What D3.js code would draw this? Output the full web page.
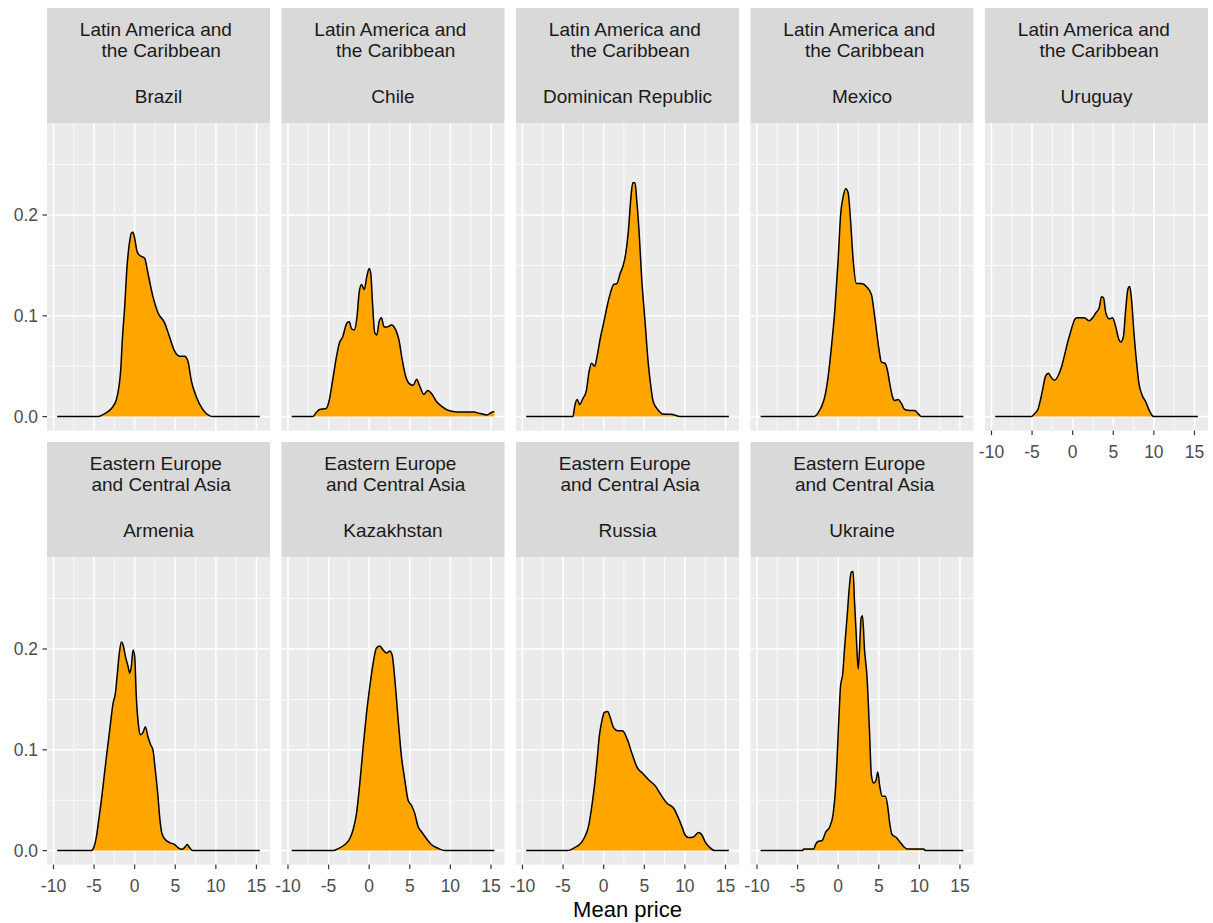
<!DOCTYPE html>
<html><head><meta charset="utf-8">
<script src="https://cdn.jsdelivr.net/npm/d3@7"></script>
<style>
body{margin:0;background:#fff;}
svg text{font-family:"Liberation Sans", Arial, sans-serif;}
</style>
</head><body>
<svg id="chart" width="1213" height="923"></svg>
<script>
// ---------- data ----------
const regionLabels = [
  ["Latin America and ", " the Caribbean"],
  ["Eastern Europe ", " and Central Asia"]
];
const countries = ["Brazil","Chile","Dominican Republic","Mexico","Uruguay","Armenia","Kazakhstan","Russia","Ukraine"];
const countryRegion = [0,0,0,0,0,1,1,1,1];
const xTicks = [-10,-5,0,5,10,15];
const xMinor = [-7.5,-2.5,2.5,7.5,12.5];
const yTicks = [0,0.1,0.2];
const yTickLabels = ["0.0","0.1","0.2"];
const yMinor = [0.05,0.15,0.25];
const xDataRange = [-9.55, 15.42];
const yDataMax = 0.2774;
const xTitle = "Mean price";

const brazil = [[-9.55,0],[-4.6,0],[-3.69,0.003],[-2.87,0.008],[-2.25,0.017],[-1.93,0.030],[-1.72,0.046],[-1.52,0.076],[-1.23,0.109],[-0.94,0.149],[-0.70,0.169],[-0.41,0.182],[-0.2,0.183],[0,0.177],[0.29,0.164],[0.61,0.160],[1.23,0.157],[1.64,0.142],[2.25,0.119],[2.87,0.103],[3.69,0.093],[4.3,0.079],[4.92,0.065],[5.53,0.060],[6.15,0.060],[6.56,0.055],[6.97,0.036],[7.58,0.020],[8.4,0.007],[9.2,0.001],[9.6,0],[15.42,0]];
const chile = [[-9.55,0],[-6.94,0],[-6.53,0.004],[-6.1,0.007],[-5.3,0.008],[-4.9,0.017],[-4.5,0.036],[-4.1,0.056],[-3.67,0.073],[-3.27,0.079],[-2.73,0.093],[-2.45,0.094],[-2.16,0.087],[-1.84,0.086],[-1.5,0.099],[-1.22,0.124],[-0.94,0.131],[-0.61,0.126],[-0.29,0.139],[0,0.147],[0.2,0.142],[0.41,0.113],[0.69,0.083],[0.94,0.081],[1.22,0.094],[1.51,0.098],[1.84,0.089],[2.24,0.089],[2.73,0.091],[3.27,0.086],[3.67,0.076],[4.08,0.056],[4.49,0.040],[4.9,0.033],[5.43,0.031],[5.84,0.037],[6.24,0.030],[6.73,0.022],[7.22,0.026],[7.76,0.022],[8.29,0.015],[8.98,0.010],[9.8,0.006],[10.8,0.0046],[12.86,0.0046],[13.67,0.003],[14.5,0.0017],[15.1,0.0043],[15.42,0.005]];
const dominican = [[-9.55,0],[-3.78,0],[-3.58,0.010],[-3.25,0.017],[-2.97,0.012],[-2.56,0.018],[-2.15,0.025],[-1.83,0.043],[-1.5,0.053],[-1.1,0.050],[-0.81,0.060],[-0.41,0.078],[0,0.093],[0.41,0.109],[0.81,0.122],[1.22,0.131],[1.63,0.132],[2.03,0.142],[2.44,0.151],[2.72,0.162],[3.05,0.185],[3.33,0.215],[3.58,0.232],[3.86,0.232],[4.07,0.215],[4.35,0.185],[4.67,0.139],[5.08,0.096],[5.49,0.053],[5.81,0.030],[6.1,0.015],[6.7,0.0066],[7.3,0.0026],[8.3,0.0023],[9.1,0.0007],[9.5,0],[15.42,0]];
const mexico = [[-9.55,0],[-3.0,0],[-2.46,0.004],[-2.05,0.010],[-1.64,0.020],[-1.23,0.040],[-0.82,0.070],[-0.41,0.106],[0,0.156],[0.29,0.199],[0.61,0.218],[0.94,0.226],[1.23,0.222],[1.52,0.195],[1.84,0.156],[2.25,0.132],[2.87,0.132],[3.48,0.129],[4.1,0.121],[4.39,0.106],[4.71,0.086],[5.04,0.066],[5.33,0.054],[5.74,0.053],[6.07,0.046],[6.35,0.033],[6.68,0.020],[6.97,0.016],[7.38,0.017],[7.79,0.013],[8.2,0.007],[8.81,0.006],[9.43,0.006],[9.84,0.003],[10.25,0],[15.42,0]];
const uruguay = [[-9.55,0],[-5.1,0],[-4.69,0.003],[-4.29,0.007],[-3.96,0.017],[-3.67,0.028],[-3.35,0.040],[-2.98,0.043],[-2.65,0.039],[-2.24,0.036],[-1.76,0.041],[-1.35,0.050],[-0.94,0.063],[-0.61,0.074],[-0.29,0.083],[0,0.091],[0.29,0.097],[0.61,0.098],[1.43,0.098],[2.04,0.095],[2.45,0.098],[2.86,0.103],[3.27,0.108],[3.55,0.119],[3.8,0.118],[4.08,0.103],[4.49,0.097],[4.9,0.098],[5.31,0.089],[5.63,0.078],[5.92,0.074],[6.24,0.079],[6.53,0.106],[6.82,0.127],[7.02,0.129],[7.22,0.119],[7.55,0.083],[7.88,0.053],[8.16,0.033],[8.57,0.021],[8.98,0.015],[9.39,0.007],[9.8,0.001],[10.0,0],[15.42,0]];
const armenia = [[-9.55,0],[-5.33,0],[-5.0,0.004],[-4.71,0.014],[-4.43,0.030],[-4.1,0.050],[-3.77,0.073],[-3.48,0.093],[-3.07,0.120],[-2.66,0.146],[-2.38,0.156],[-2.13,0.176],[-1.93,0.193],[-1.64,0.207],[-1.39,0.203],[-1.15,0.193],[-0.82,0.183],[-0.61,0.176],[-0.41,0.183],[-0.2,0.199],[0,0.193],[0.2,0.153],[0.49,0.123],[0.7,0.115],[1.02,0.117],[1.31,0.123],[1.64,0.113],[1.97,0.105],[2.25,0.100],[2.54,0.080],[2.87,0.054],[3.07,0.034],[3.36,0.017],[3.77,0.011],[4.3,0.008],[4.92,0.006],[5.33,0.003],[5.74,0.0013],[6.15,0.003],[6.48,0.006],[6.76,0.003],[7.17,0],[15.42,0]];
const kazakhstan = [[-9.55,0],[-4.43,0],[-3.81,0.002],[-2.99,0.006],[-2.38,0.012],[-1.97,0.021],[-1.56,0.037],[-1.15,0.067],[-0.74,0.103],[-0.33,0.136],[0.08,0.163],[0.49,0.186],[0.9,0.201],[1.31,0.203],[1.72,0.199],[2.13,0.196],[2.54,0.198],[2.83,0.194],[3.16,0.170],[3.57,0.130],[3.98,0.093],[4.39,0.070],[4.8,0.050],[5.2,0.045],[5.61,0.037],[6.02,0.024],[6.43,0.019],[7.05,0.012],[7.66,0.006],[8.48,0.0023],[9.3,0],[15.42,0]];
const russia = [[-9.55,0],[-4.39,0],[-3.58,0.003],[-2.97,0.006],[-2.36,0.013],[-1.87,0.024],[-1.46,0.044],[-1.14,0.064],[-0.81,0.090],[-0.53,0.114],[-0.24,0.128],[0.08,0.137],[0.49,0.138],[0.81,0.132],[1.22,0.122],[1.71,0.119],[2.32,0.119],[2.93,0.110],[3.54,0.095],[4.15,0.082],[4.76,0.077],[5.57,0.070],[6.38,0.064],[7.0,0.056],[7.8,0.047],[8.62,0.042],[9.23,0.032],[9.63,0.024],[10.0,0.016],[10.45,0.013],[11.06,0.0136],[11.67,0.018],[12.07,0.016],[12.48,0.009],[13.09,0.003],[13.7,0],[15.42,0]];
const ukraine = [[-9.55,0],[-4.43,0],[-4.22,0.0017],[-3.0,0.0017],[-2.79,0.006],[-2.5,0.009],[-1.97,0.010],[-1.56,0.018],[-1.02,0.024],[-0.61,0.037],[-0.33,0.061],[-0.12,0.094],[0.08,0.130],[0.29,0.163],[0.57,0.176],[0.78,0.200],[1.11,0.233],[1.35,0.259],[1.6,0.276],[1.84,0.277],[2.0,0.249],[2.25,0.210],[2.46,0.180],[2.62,0.198],[2.83,0.231],[3.0,0.233],[3.24,0.200],[3.57,0.170],[3.85,0.120],[4.1,0.074],[4.39,0.067],[4.67,0.070],[4.88,0.078],[5.12,0.064],[5.41,0.054],[5.82,0.054],[6.1,0.044],[6.35,0.027],[6.64,0.016],[7.17,0.013],[7.66,0.008],[8.07,0.004],[8.48,0.0017],[10.53,0.0017],[10.74,0],[15.42,0]];
const densities = [brazil, chile, dominican, mexico, uruguay, armenia, kazakhstan, russia, ukraine];

// ---------- layout ----------
const svg = d3.select("#chart");
const nCol = 5;
const panelW = 223, colStep = 234.5, left0 = 47;
const rowTop = [8, 442];
const stripH = 115, panelH = 307.6;

const xr = xDataRange[1]-xDataRange[0];
const x = d3.scaleLinear().domain([xDataRange[0]-0.05*xr, xDataRange[1]+0.05*xr]).range([0, panelW]);
const y = d3.scaleLinear().domain([-0.05*yDataMax, 1.05*yDataMax]).range([panelH, 0]);

const area = d3.area().x(d=>x(d[0])).y0(y(0)).y1(d=>y(d[1])).curve(d3.curveMonotoneX);
const line = d3.line().x(d=>x(d[0])).y(d=>y(d[1])).curve(d3.curveMonotoneX);

countries.forEach((name, k) => {
  const row = Math.floor(k / nCol), col = k % nCol;
  const gx = left0 + col*colStep, gy = rowTop[row];
  const g = svg.append("g").attr("transform", `translate(${gx},${gy})`);

  // strip
  g.append("rect").attr("x",0).attr("y",0).attr("width",panelW).attr("height",stripH).attr("fill","#D9D9D9");
  const lines = regionLabels[countryRegion[k]];
  const st = g.append("g").attr("fill","#1A1A1A").attr("font-size","19px").attr("text-anchor","middle");
  st.append("text").attr("x",panelW/2).attr("y",27.6).style("white-space","pre").text(lines[0]);
  st.append("text").attr("x",panelW/2).attr("y",49.1).style("white-space","pre").text(lines[1]);
  st.append("text").attr("x",panelW/2).attr("y",95.3).text(name);

  // panel
  const p = g.append("g").attr("transform", `translate(0,${stripH})`);
  p.append("rect").attr("width",panelW).attr("height",panelH).attr("fill","#EBEBEB");
  p.selectAll("line.ymin").data(yMinor).join("line").attr("x1",0).attr("x2",panelW)
    .attr("y1",d=>y(d)).attr("y2",d=>y(d)).attr("stroke","#fff").attr("stroke-width",0.8);
  p.selectAll("line.xmin").data(xMinor).join("line").attr("y1",0).attr("y2",panelH)
    .attr("x1",d=>x(d)).attr("x2",d=>x(d)).attr("stroke","#fff").attr("stroke-width",0.8);
  p.selectAll("line.ymaj").data(yTicks).join("line").attr("x1",0).attr("x2",panelW)
    .attr("y1",d=>y(d)).attr("y2",d=>y(d)).attr("stroke","#fff").attr("stroke-width",1.6);
  p.selectAll("line.xmaj").data(xTicks).join("line").attr("y1",0).attr("y2",panelH)
    .attr("x1",d=>x(d)).attr("x2",d=>x(d)).attr("stroke","#fff").attr("stroke-width",1.6);

  const data = densities[k];
  p.append("path").datum(data).attr("d",area).attr("fill","#FFA500");
  p.append("path").datum(data).attr("d",line).attr("fill","none").attr("stroke","#000").attr("stroke-width",1.5);

  // y axis
  if (col === 0) {
    const ya = p.append("g");
    yTicks.forEach((t,i) => {
      ya.append("line").attr("x1",-4.5).attr("x2",0).attr("y1",y(t)).attr("y2",y(t)).attr("stroke","#333").attr("stroke-width",1.2);
      ya.append("text").attr("x",-9).attr("y",y(t)).attr("dy","0.35em").attr("text-anchor","end")
        .attr("font-size","17.5px").attr("fill","#4D4D4D").text(yTickLabels[i]);
    });
  }
  // x axis: bottom row, or panels with no panel below
  const hasBelow = (k + nCol) < countries.length;
  if (!hasBelow) {
    const xa = p.append("g").attr("transform",`translate(0,${panelH})`);
    xTicks.forEach(t => {
      xa.append("line").attr("x1",x(t)).attr("x2",x(t)).attr("y1",0).attr("y2",4.5).attr("stroke","#333").attr("stroke-width",1.2);
      xa.append("text").attr("x",x(t)).attr("y",27).attr("text-anchor","middle")
        .attr("font-size","17.5px").attr("fill","#4D4D4D").text(t);
    });
  }
});

svg.append("text").attr("x", (left0 + left0 + 4*colStep + panelW)/2).attr("y", 917)
  .attr("text-anchor","middle").attr("font-size","22px").attr("fill","#000").text(xTitle);
</script>
</body></html>
